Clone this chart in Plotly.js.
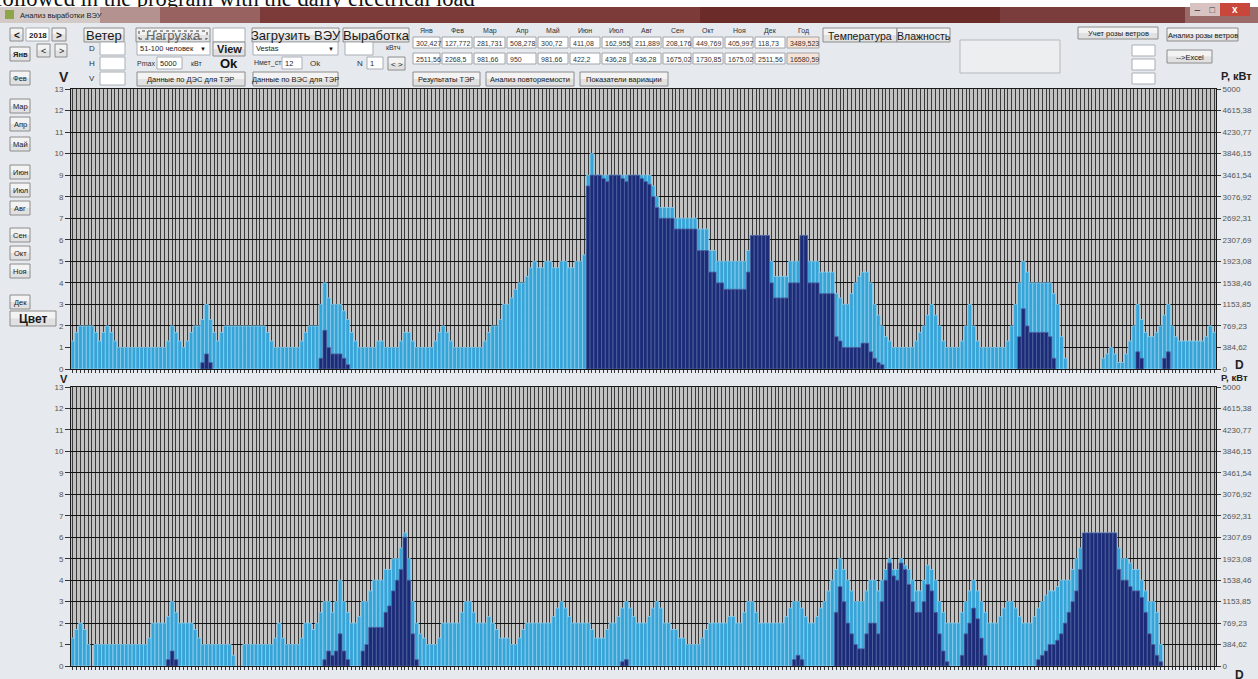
<!DOCTYPE html>
<html><head><meta charset="utf-8">
<script src="https://cdn.plot.ly/plotly-3.0.1.min.js"></script>
<style>html,body{margin:0;padding:0;background:#e6e9ed;overflow:hidden}#chart{width:1258px;height:679px}</style>
</head><body><div id="chart"></div>
<script>
// ---------- DATA ----------
// wind speed V (m/s), upper chart
const topWind = [
 1.3,1.7,2,2,2,2,1.7,1.3,1.7,2,
 1.7,1.3,1,1,1,1,1,1,1,1,
 1,1,1,1,1,1.3,2,1.7,1.3,1,
 1.3,1.7,2,2,2.3,3,2.3,1.7,1.3,1.7,
 2,2,2,2,2,2,2,2,2,2,
 2,1.7,1.3,1,1,1,1,1,1,1,
 1.3,1.7,2,2,2,3,4,3.3,3,3,
 3,2.7,2.3,1.7,1.3,1,1,1,1,1,
 1.3,1.3,1,1,1,1,1.3,1.7,1.7,1.3,
 1,1,1,1,1,1.3,1.7,2,1.7,1.3,
 1,1,1,1,1,1,1,1,1.3,1.7,
 2,2,2.3,3,3,3.3,3.7,4,4,4.3,
 4.7,5,4.7,4.7,5,5,4.7,4.7,5,5,
 4.7,4.7,5,5,5.3,9,10,9,9,9,
 9,9,9,9,9,9,9,9,9,9,
 9,9,8.5,8,7.5,7.5,7.5,7.5,7,7,
 7,7,7,7,6.5,6.5,6.5,5.5,5.5,5,
 5,5,5,5,5,5,5,5.5,6.2,6.2,
 6.2,6.2,6.2,5,4.3,4.3,4.3,4.3,5,5,
 5,6.2,6.2,5,5,5,4.5,4.5,4.5,4.5,
 3.5,3.3,3,3,3.5,4,4.3,4.5,4.5,4,
 3,2.5,2,1.5,1.3,1,1,1,1,1,
 1,1.3,1.7,2,2.5,3,2.5,2,1.3,1,
 1,1,1,1.3,2,3,2,1.3,1,1,
 1,1,1,1,1,1.3,2,3,4,5,
 4.5,4,4,4,4,4,4,3.5,3,1.5,
 0.5,0,0,0,0,0,0,0,0,0,
 0.5,0.7,1,0.7,0.3,0.3,0.7,1.3,2,3,
 2.3,1.7,1.5,1.5,1.7,2,2.5,3,2,1.5,
 1.3,1.3,1.3,1.3,1.3,1.3,1.3,1.5,2,1.7
];
// wind-plant output P (kW), upper chart
const topPower = [
 0,0,0,0,0,0,0,0,0,0,
 0,0,0,0,0,0,0,0,0,0,
 0,0,0,0,0,0,0,0,0,0,
 0,0,0,0,115,269,115,0,0,0,
 0,0,0,0,0,0,0,0,0,0,
 0,0,0,0,0,0,0,0,0,0,
 0,0,0,0,0,192,692,385,269,269,
 269,192,77,0,0,0,0,0,0,0,
 0,0,0,0,0,0,0,0,0,0,
 0,0,0,0,0,0,0,0,0,0,
 0,0,0,0,0,0,0,0,0,0,
 0,0,0,0,0,0,0,0,0,0,
 0,0,0,0,0,0,0,0,0,0,
 0,0,0,0,0,3269,3462,3462,3462,3400,
 3346,3462,3462,3462,3400,3346,3462,3462,3462,3400,
 3346,3300,3077,2885,2692,2692,2692,2692,2500,2500,
 2500,2500,2500,2500,2115,2115,2115,1731,1731,1538,
 1538,1423,1423,1423,1423,1423,1423,1731,2385,2385,
 2385,2385,2385,1538,1269,1269,1269,1269,1538,1538,
 1538,2385,2385,1538,1538,1538,1346,1346,1346,1346,
 577,500,385,385,385,385,385,462,462,308,
 192,115,77,0,0,0,0,0,0,0,
 0,0,0,0,0,0,0,0,0,0,
 0,0,0,0,0,0,0,0,0,0,
 0,0,0,0,0,0,0,0,577,1077,
 769,654,654,654,654,654,577,192,0,0,
 0,0,0,0,0,0,0,0,0,0,
 0,0,0,0,0,0,0,0,0,308,
 192,0,0,0,0,0,192,308,0,0,
 0,0,0,0,0,0,0,0,0,0
];
// wind speed V (m/s), lower chart
const bottomWind = [
 1.3,1.7,2,1.7,1,0,1,1,1,1,
 1,1,1,1,1,1,1,1,1,1,
 1.3,2,2,2,2,2.3,3,2.5,2,2,
 2,2,1.7,1.3,1,1,1,1,1,1,
 1,1,0.5,0,0,1,1,1,1,1,
 1,1,1,1.3,2,1.3,1,1,1,1,
 1.3,2,2,1.7,2,2.5,3,3,2.5,3,
 4,3,2.5,2,2,2.3,3,3,3.5,4,
 4,4,4.5,4.5,5,5,5.5,6.2,5,3,
 2,1.5,1.3,1,1,1,1.3,2,2,2,
 2,2,2.5,3,3,2.5,2,2,2,2.3,
 2,1.7,1.3,1.3,1.3,1,1,1.3,1.7,2,
 2,2,2,2,2,2,2.3,2.7,3,2.7,
 2.3,2,2,2,2,2,1.7,1.3,1.3,1.3,
 1.7,2,2,2.3,2.7,3,2.7,2.3,2,2,
 2,2.3,2.7,3,2.7,2,2,1.7,1.7,1.3,
 1.3,1,1,1,1,1.3,1.7,2,2,2,
 2,2,2.3,2.3,2,2,2.5,3,3,2.5,
 2,2,2,2,2,2,2,2.3,2.7,3,
 3,2.7,2.3,2,2,2.3,2.7,3,3.5,4,
 4.5,5,4.5,4,3.5,3,3,3,3.5,4,
 4,3.5,4,4.5,5,4.5,4.5,5,4.7,4.5,
 4,3.5,3.5,4,4.7,4.5,4,3,2.5,2,
 2,2,2,2.5,3,3.5,4,3.5,3,2.5,
 2,2,2,2.3,2.7,3,3,2.7,2.3,2,
 2,2,2.3,2.7,3,3.3,3.5,3.5,3.7,4,
 4,4,4.5,5,5.5,6.2,6.2,6.2,6.2,6.2,
 6.2,6.2,6.2,6.2,5.5,5,5,4.8,4.5,4.5,
 4,3.5,3,3,2.5,1,0,0,0,0,
 0,0,0,0,0,0,0,0,0,0
];
// wind-plant output P (kW), lower chart
const bottomPower = [
 0,0,0,0,0,0,0,0,0,0,
 0,0,0,0,0,0,0,0,0,0,
 0,0,0,0,0,115,269,115,0,0,
 0,0,0,0,0,0,0,0,0,0,
 0,0,0,0,0,0,0,0,0,0,
 0,0,0,0,0,0,0,0,0,0,
 0,0,0,0,0,0,115,269,192,269,
 577,269,115,0,0,0,269,385,692,692,
 692,692,962,1077,1346,1538,1731,2308,1538,577,
 115,0,0,0,0,0,0,0,0,0,
 0,0,0,0,0,0,0,0,0,0,
 0,0,0,0,0,0,0,0,0,0,
 0,0,0,0,0,0,0,0,0,0,
 0,0,0,0,0,0,0,0,0,0,
 0,0,0,0,77,115,0,0,0,0,
 0,0,0,0,0,0,0,0,0,0,
 0,0,0,0,0,0,0,0,0,0,
 0,0,0,0,0,0,0,0,0,0,
 0,0,0,0,0,0,0,0,0,115,
 192,115,0,0,0,0,0,0,0,0,
 962,1423,1154,769,577,385,308,308,577,769,
 769,577,1154,1538,1846,1615,1538,1846,1731,1462,
 1154,962,962,1154,1462,1346,962,577,269,77,
 0,0,0,192,577,769,1038,846,500,192,
 0,0,0,0,0,0,0,0,0,0,
 0,0,0,115,192,269,385,385,462,577,
 769,962,1154,1346,1731,2385,2385,2385,2385,2385,
 2385,2385,2385,2385,1731,1538,1538,1423,1346,1346,
 1231,962,577,385,192,77,0,0,0,0,
 0,0,0,0,0,0,0,0,0,0
];
const windTickVals = [0,1,2,3,4,5,6,7,8,9,10,11,12,13];
const powerTickVals = [0,384.62,769.23,1153.85,1538.46,1923.08,2307.69,2692.31,3076.92,3461.54,3846.15,4230.77,4615.38,5000];
const powerTickText = ['0','384,62','769,23','1153,85','1538,46','1923,08','2307,69','2692,31','3076,92','3461,54','3846,15','4230,77','4615,38','5000'];
const monthNames = ['Янв','Фев','Мар','Апр','Май','Июн','Июл','Авг','Сен','Окт','Ноя','Дек','Год'];
const monthEnergy = ['302,427','127,772','281,731','508,278','300,72','411,08','162,955','211,889','208,176','449,769','405,997','118,73','3489,523'];
const monthLoad = ['2511,56','2268,5','981,66','950','981,66','422,2','436,28','436,28','1675,02','1730,85','1675,02','2511,56','16580,59'];
const sideMonths = ['Мар','Апр','Май','Июн','Июл','Авг','Сен','Окт','Ноя','Дек'];

// ---------- LAYOUT HELPERS ----------
const W = 1258, H = 679;
const FONT = 'Liberation Sans, Arial, sans-serif';
const X = x => x / W, Y = y => 1 - y / H;
const shapes = [], annos = [];
function rect(x0, y0, x1, y1, fill, line, lw, dash) {
  shapes.push({type:'rect', xref:'paper', yref:'paper', x0:X(x0), x1:X(x1), y0:Y(y1), y1:Y(y0),
    fillcolor: fill, line:{color: line || 'rgba(0,0,0,0)', width: lw == null ? 1 : lw, dash: dash || 'solid'}});
}
function label(x, y, text, size, anchor, color, family) {
  annos.push({xref:'paper', yref:'paper', x:X(x), y:Y(y), text:text, showarrow:false,
    xanchor: anchor || 'center', yanchor:'middle', borderpad:0,
    font:{family: family || FONT, size: size || 8, color: color || '#1a1a1a'}});
}
function button(x0, y0, x1, y1, text, size, color) {
  const m = (y0 + y1) / 2;
  rect(x0, y0, x1, m, '#f3f3f3', null, 0);
  rect(x0, m, x1, y1, '#e1e1e1', null, 0);
  rect(x0, y0, x1, y1, 'rgba(0,0,0,0)', '#8c8c8c', 1);
  label((x0 + x1) / 2, m + 0.5, text, size || 7.5, 'center', color);
}
function textbox(x0, y0, x1, y1, text, size) {
  rect(x0, y0, x1, y1, '#ffffff', '#a9aeb5', 1);
  if (text) label(x0 + 2, (y0 + y1) / 2 + 0.5, text, size || 7.5, 'left', '#222');
}
function combo(x0, y0, x1, y1, text) {
  textbox(x0, y0, x1, y1, text);
  label(x1 - 7, (y0 + y1) / 2 + 0.5, '▼', 6, 'center', '#111');
}
function block(x0, y0, x1, y1, color, text, fcolor, size) {
  annos.push({xref:'paper', yref:'paper', x:X(x0), y:Y(y0), xanchor:'left', yanchor:'top',
    width: x1 - x0, height: y1 - y0, bgcolor: color, borderpad:0, borderwidth:0,
    text: text || ' ', showarrow:false, align:'center', valign:'middle',
    font:{family:FONT, size: size || 8, color: fcolor || color}});
}

// ---------- WINDOW CHROME ----------
rect(0, 0, 1258, 7, '#ffffff', null, 0);
label(-6, -2, 'followed in the program with the daily electrical load', 22.5, 'left', '#111', 'Liberation Serif, Times New Roman, serif');
block(0, 7, 100, 23, '#d3c9c7');
block(100, 7, 160, 23, '#b39290');
block(160, 7, 260, 23, '#976260');
block(260, 7, 700, 23, '#7c3a38');
block(700, 7, 1000, 23, '#6a2b29');
block(1000, 7, 1185, 23, '#7a3d3b');
block(1185, 7, 1258, 23, '#9a6b69');
block(5, 10, 14, 19, '#8ea64a');
annos.push({xref:'paper', yref:'paper', x:X(18), y:Y(15), text:'Анализ выработки ВЭУ', showarrow:false,
  xanchor:'left', yanchor:'middle', font:{family:FONT, size:7.5, color:'#222'}});
block(1190, 3, 1205, 16, '#d8c3c2', '–', '#333', 10);
block(1205, 3, 1220, 16, '#d8c3c2', '□', '#333', 9);
block(1220, 3, 1250, 16, '#c8463a', '<b>x</b>', '#ffffff', 10);

// ---------- FORM CONTROLS ----------
button(10, 28, 23, 41, '<b>&lt;</b>', 10);
textbox(26, 28, 49, 41, '<b>2018</b>', 8);
button(52, 28, 66, 41, '<b>&gt;</b>', 10);
button(84, 28, 124, 42, 'Ветер', 13);
button(136, 28, 210, 42, 'Нагрузка', 13, '#666');
rect(139, 31, 207, 39, 'rgba(0,0,0,0)', '#444', 1, 'dot');
textbox(213, 28, 245, 42);
button(252, 28, 339, 42, 'Загрузить ВЭУ', 13);
button(343, 28, 409, 42, 'Выработка', 13);
button(10, 47, 30, 61, '<b>Янв</b>', 7.5);
button(37, 44, 50, 57, '&lt;', 9);
button(55, 44, 67, 57, '&gt;', 9);
label(92, 49, 'D', 8, 'center', '#333');
textbox(100, 42, 125, 55);
combo(137, 42, 210, 55, '51-100 человек');
button(213, 42, 245, 56, '<b>View</b>', 11);
combo(253, 42, 338, 55, 'Vestas');
textbox(345, 42, 373, 55);
label(393, 48, 'кВтч', 7, 'center', '#333');
button(10, 71, 30, 85, 'Фев', 7.5);
label(92, 63, 'H', 8, 'center', '#333');
textbox(100, 57, 125, 70);
label(146, 63, 'Pmax', 7, 'center', '#333');
textbox(157, 57, 182, 69, '5000');
label(196, 63, 'кВт', 7, 'center', '#333');
label(229, 63, '<b>Ok</b>', 13, 'center', '#111');
label(268, 63, 'Hмет_ст', 7, 'center', '#333');
textbox(282, 57, 302, 69, '12');
label(316, 63, 'Ok', 8, 'center', '#333');
label(360, 63, 'N', 8, 'center', '#333');
textbox(367, 57, 383, 69, '1');
button(388, 57, 405, 70, '&lt; &gt;', 8);
label(92, 78, 'V', 8, 'center', '#333');
textbox(100, 72, 125, 85);
button(137, 72, 245, 86, 'Данные по ДЭС для ТЭР', 7.5);
button(253, 72, 338, 86, 'Данные по ВЭС для ТЭР', 7.5);
const cellX = [413,442,474,507,538,570,602,632,663,693,725,755,787,821];
monthNames.forEach((m, i) => {
  const x0 = cellX[i], x1 = cellX[i + 1] - 2;
  label((x0 + x1) / 2, 31, m, 7, 'center', '#333');
  const bg = i === 12 ? '#f7e4d6' : '#ffffff';
  rect(x0, 37, x1, 48, bg, '#a0a4aa', 1);
  label(x0 + 2, 43, monthEnergy[i], 7, 'left', '#333');
  rect(x0, 53, x1, 64, bg, '#a0a4aa', 1);
  label(x0 + 2, 59, monthLoad[i], 7, 'left', '#333');
});
button(413, 72, 480, 86, 'Результаты ТЭР', 7.5);
button(486, 72, 574, 86, 'Анализ повторяемости', 7.5);
button(580, 72, 668, 86, 'Показатели вариации', 7.5);
button(823, 28, 897, 42, 'Температура', 10.5);
button(897, 28, 950, 42, 'Влажность', 10.5);
rect(960, 40, 1060, 73, '#eceef0', '#b5b9be', 1);
button(1078, 27, 1158, 39, 'Учет розы ветров', 7.5);
textbox(1132, 45, 1155, 56);
textbox(1132, 59, 1155, 70);
textbox(1132, 73, 1155, 84);
button(1167, 28, 1238, 41, 'Анализ розы ветров', 7.5);
button(1167, 50, 1212, 63, '--&gt;Excel', 7.5);
const sideY = [106,124,144,172,190,208,235,253,271,302];
sideMonths.forEach((m, i) => button(10, sideY[i] - 7, 30, sideY[i] + 7, m, 7.5));
button(10, 311, 56, 326, '<b>Цвет</b>', 12);
label(64, 77, '<b>V</b>', 14, 'center', '#222');
label(64, 379, '<b>V</b>', 11, 'center', '#222');
label(1220, 76, '<b>P, кВт</b>', 11, 'left', '#222');
label(1220, 377, '<b>P, кВт</b>', 9.5, 'left', '#222');
label(1234, 365, '<b>D</b>', 12, 'left', '#222');
label(1234, 675, '<b>D</b>', 12, 'left', '#222');

// ---------- TRACES ----------
const days = topWind.map((_, i) => i + 1);
const nz = a => a.map(v => (v > 0 ? v : null));
const lightBar = {color:'#37a4d8', line:{color:'#8ed1f0', width:0.8}};
const darkBar = {color:'#1c2b78', line:{color:'#52649f', width:0.8}};
const traces = [
  {type:'bar', x:days, y:nz(topWind), xaxis:'x', yaxis:'y', marker:lightBar, hoverinfo:'skip'},
  {type:'bar', x:days, y:nz(topPower), xaxis:'x', yaxis:'y2', marker:darkBar, hoverinfo:'skip'},
  {type:'bar', x:days, y:nz(bottomWind), xaxis:'x2', yaxis:'y3', marker:lightBar, hoverinfo:'skip'},
  {type:'bar', x:days, y:nz(bottomPower), xaxis:'x2', yaxis:'y4', marker:darkBar, hoverinfo:'skip'}
];

const xBase = {domain:[X(71), X(1216)], range:[0.5, days.length + 0.5], dtick:1, tick0:1,
  showgrid:true, gridcolor:'#3a3a3a', gridwidth:1, ticks:'outside', ticklen:3, tickcolor:'#333',
  showticklabels:false, showline:true, linecolor:'#1a1a1a', linewidth:1, mirror:true, zeroline:false, fixedrange:true};
const yLeft = {range:[0,13], tickvals:windTickVals, showgrid:true, gridcolor:'#111111', gridwidth:1,
  ticks:'outside', ticklen:5, tickcolor:'#333', tickfont:{family:FONT, size:8, color:'#555'},
  showline:true, linecolor:'#1a1a1a', zeroline:false, fixedrange:true};
const yRight = {range:[0,5000], tickvals:powerTickVals, ticktext:powerTickText, side:'right', showgrid:false,
  ticks:'outside', ticklen:4, tickcolor:'#333', tickfont:{family:FONT, size:8, color:'#555'},
  showline:true, linecolor:'#1a1a1a', zeroline:false, fixedrange:true};

const layout = {
  width:W, height:H, margin:{l:0, r:0, t:0, b:0},
  paper_bgcolor:'#e6e9ed', plot_bgcolor:'#c2c2c2',
  barmode:'overlay', bargap:0, showlegend:false,
  xaxis: Object.assign({}, xBase, {anchor:'y'}),
  xaxis2: Object.assign({}, xBase, {anchor:'y3'}),
  yaxis: Object.assign({}, yLeft, {domain:[Y(369), Y(89)], anchor:'x'}),
  yaxis2: Object.assign({}, yRight, {overlaying:'y', anchor:'x'}),
  yaxis3: Object.assign({}, yLeft, {domain:[Y(666), Y(387)], anchor:'x2'}),
  yaxis4: Object.assign({}, yRight, {overlaying:'y3', anchor:'x2'}),
  shapes: shapes, annotations: annos
};
Plotly.newPlot('chart', traces, layout, {staticPlot:true, displayModeBar:false});
</script></body></html>
